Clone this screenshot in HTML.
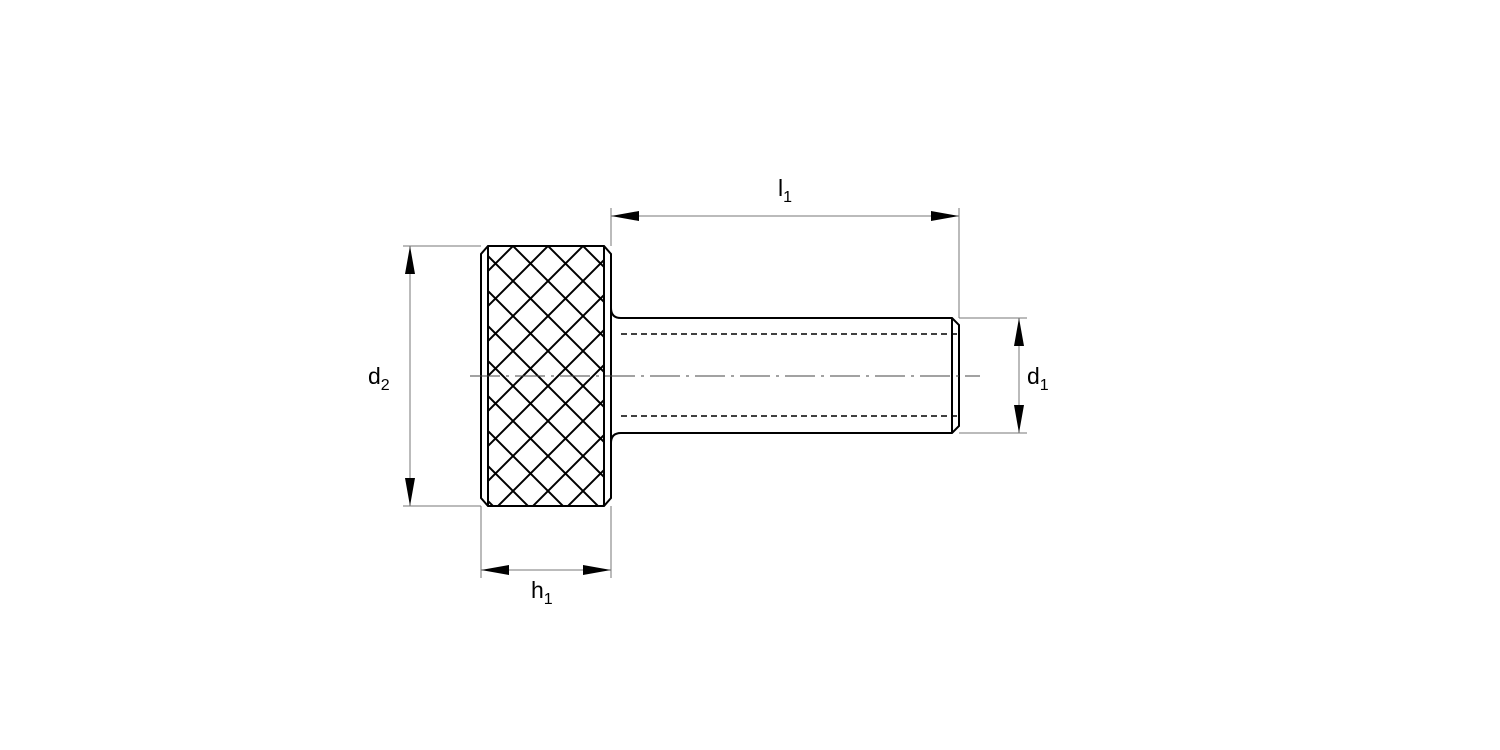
<!DOCTYPE html>
<html><head><style>body{margin:0;background:#fff}svg{display:block}</style></head><body>
<svg width="1500" height="750" viewBox="0 0 1500 750" xmlns="http://www.w3.org/2000/svg">
<defs>
<pattern id="k" patternUnits="userSpaceOnUse" x="513" y="246" width="35" height="35">
<path d="M0 0L35 35M35 0L0 35M-5 30L5 40M30 -5L40 5M-5 5L5 -5M30 40L40 30" stroke="#000" stroke-width="2"/>
</pattern>
</defs>
<rect x="488" y="246" width="117" height="260" fill="url(#k)"/>
<g fill="none" stroke="#000" stroke-width="2">
<path d="M488 246H604L611 254V498L604 506H488L481 498V254Z"/>
<path d="M488 246V506M604 246V506"/>
<path d="M611 308Q611 318 621 318H952L959 325V426L952 433H621Q611 433 611 443"/>
<path d="M952 318V433"/>
</g>
<g stroke="#000" stroke-width="1.5" stroke-dasharray="6,4">
<path d="M621 334H959M621 416H959"/>
</g>
<path d="M470 376H980" stroke="#444" stroke-width="1" stroke-dasharray="30,6,3,6"/>
<g stroke="#777" stroke-width="1">
<path d="M611 246V208M959 318V208M611 216H959"/>
<path d="M403 246H481M403 506H481M410 246V506"/>
<path d="M959 318H1027M959 433H1027M1019 318V433"/>
<path d="M481 506V578M611 506V578M481 570H611"/>
</g>
<g fill="#000">
<path d="M611 216L639 211V221ZM959 216L931 211V221Z"/>
<path d="M410 246L405 274H415ZM410 506L405 478H415Z"/>
<path d="M1019 318L1014 346H1024ZM1019 433L1014 405H1024Z"/>
<path d="M481 570L509 565V575ZM611 570L583 565V575Z"/>
</g>
<g font-family="Liberation Sans, sans-serif" font-size="23" fill="#000">
<text x="778" y="196">l<tspan font-size="16" dy="6">1</tspan></text>
<text x="368" y="384">d<tspan font-size="16" dy="6">2</tspan></text>
<text x="1027" y="384">d<tspan font-size="16" dy="6">1</tspan></text>
<text x="531" y="598">h<tspan font-size="16" dy="6">1</tspan></text>
</g>
</svg>
</body></html>
